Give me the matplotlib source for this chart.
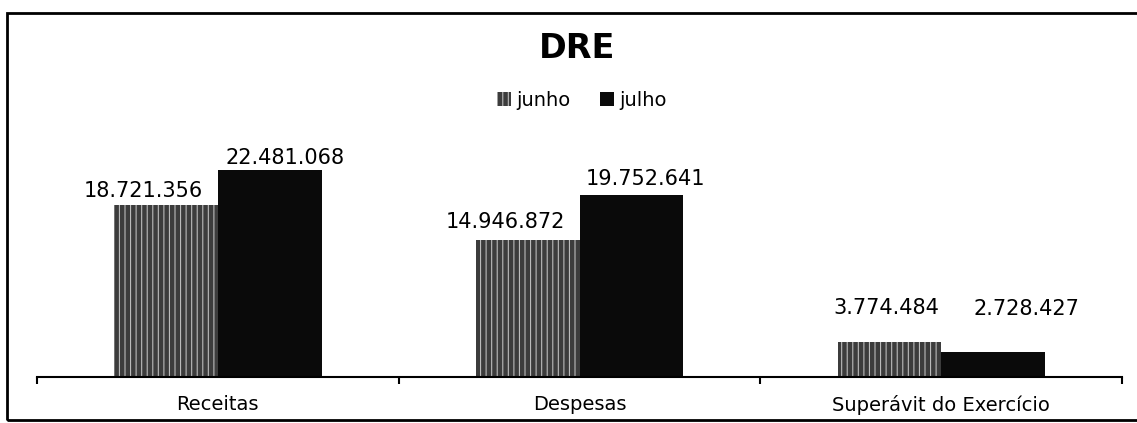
import numpy as np
import matplotlib.pyplot as plt
from matplotlib.patches import Rectangle

plt.rcParams['font.family'] = ['DejaVu Sans']
plt.rcParams['hatch.linewidth'] = 0.8

# data
categories = ["Receitas", "Despesas", "Superávit do Exercício"]
series = ["junho", "julho"]
junho = [18721356, 14946872, 3774484]
julho = [22481068, 19752641, 2728427]
value_labels = [["18.721.356", "14.946.872", "3.774.484"],
                ["22.481.068", "19.752.641", "2.728.427"]]

# label nudges in pixels (dx, dy) from each bar top
nudges = [[(-23, 14), (-22, 18), (-3, 34)],
          [(15, 12), (14, 16), (33, 43)]]

fig = plt.figure(figsize=(11.37, 4.23), dpi=100)
ax = fig.add_axes([0.0325, 0.1087, 0.9545, 0.5433])

x = np.arange(len(categories))
w = 0.287
b1 = ax.bar(x - w / 2, junho, w, color='#3c3c3c', edgecolor='#bbbbbb',
            hatch='|||', linewidth=0, label=series[0])
b2 = ax.bar(x + w / 2, julho, w, color='#0a0a0a', linewidth=0, label=series[1])

for s, bars in enumerate([b1, b2]):
    for i, r in enumerate(bars):
        dx, dy = nudges[s][i]
        ax.annotate(value_labels[s][i], (r.get_x() + r.get_width() / 2, r.get_height()),
                    xytext=(dx, dy), textcoords='offset pixels',
                    ha='center', va='center', fontsize=15)

ax.set_xlim(-0.5, 2.5)
ax.set_ylim(0, 25000000)
ax.set_yticks([])
for sp in ['top', 'right', 'left']:
    ax.spines[sp].set_visible(False)
ax.spines['bottom'].set_linewidth(1.5)
ax.set_xticks([-0.5, 0.5, 1.5, 2.5])
ax.set_xticklabels([])
ax.tick_params(axis='x', direction='out', length=5, width=1.5)
ax.set_xticks(x, minor=True)
ax.set_xticklabels(categories, minor=True, fontsize=14)
ax.tick_params(axis='x', which='minor', length=0, pad=13)

fig.text(0.5075, 0.885, "DRE", ha='center', va='center', fontsize=24, fontweight='bold')
fig.legend(handles=[b1, b2], labels=series, loc='center', bbox_to_anchor=(0.512, 0.763),
           ncol=2, frameon=False, fontsize=14, handlelength=0.7, handleheight=0.7,
           handletextpad=0.3, columnspacing=1.5)

fig.patches.append(Rectangle((7 / 1137, 3 / 423), 1.1, 407 / 423, transform=fig.transFigure,
                             fill=False, edgecolor='black', linewidth=2))

fig.savefig("out.png", dpi=100, facecolor='white')
